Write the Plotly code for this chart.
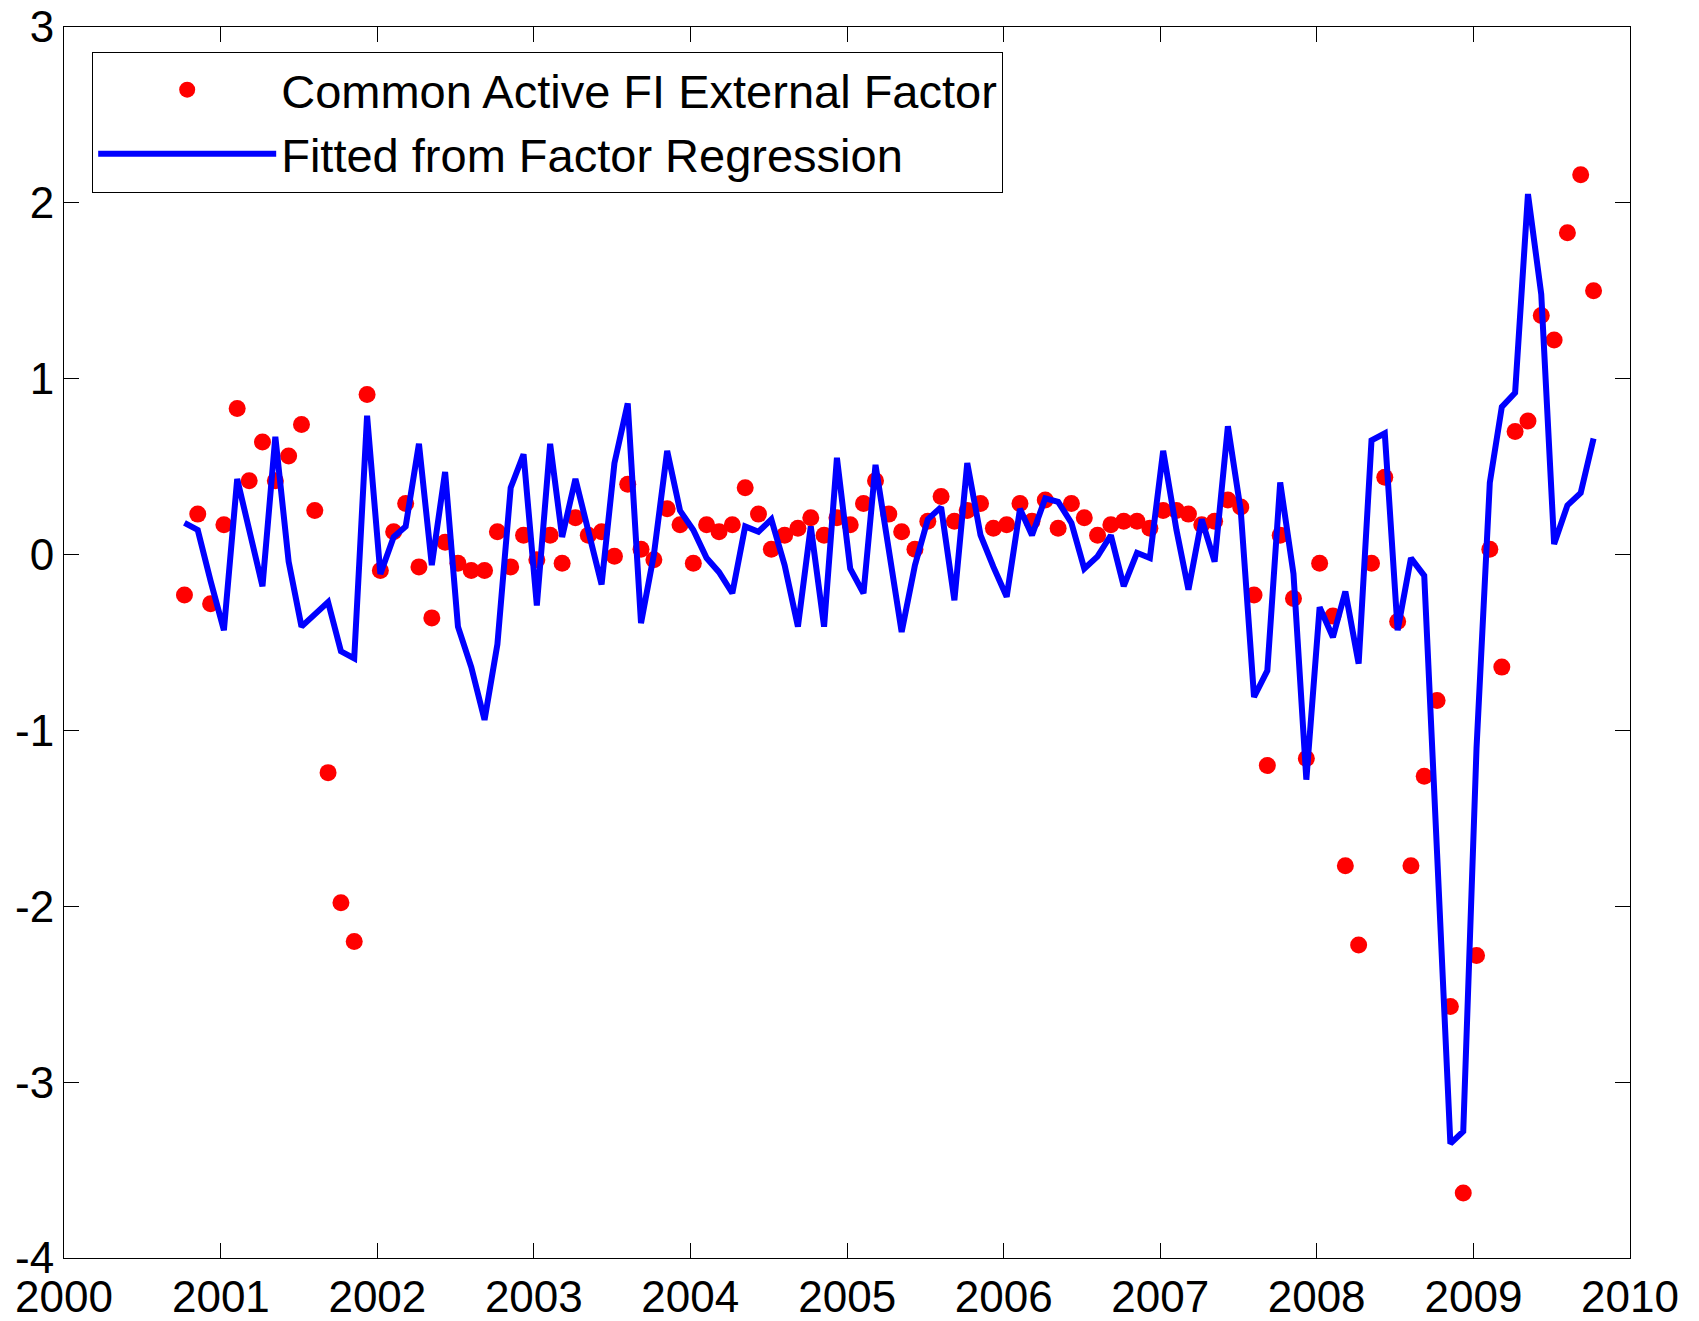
import plotly.graph_objects as go
import pandas as pd

dates = pd.date_range("2000-10-01", "2009-10-01", freq="MS") + pd.Timedelta(days=7)

factor = [
    -0.23, 0.23, -0.28, 0.17, 0.83, 0.42, 0.64, 0.42, 0.56, 0.74, 0.25, -1.24,
    -1.98, -2.20, 0.91, -0.09, 0.13, 0.29, -0.07, -0.36, 0.07, -0.05, -0.09, -0.09,
    0.13, -0.07, 0.11, -0.03, 0.11, -0.05, 0.21, 0.11, 0.13, -0.01, 0.40, 0.03,
    -0.03, 0.26, 0.17, -0.05, 0.17, 0.13, 0.17, 0.38, 0.23, 0.03, 0.11, 0.15,
    0.21, 0.11, 0.21, 0.17, 0.29, 0.42, 0.23, 0.13, 0.03, 0.19, 0.33, 0.19,
    0.25, 0.29, 0.15, 0.17, 0.29, 0.19, 0.31, 0.15, 0.29, 0.21, 0.11, 0.17,
    0.19, 0.19, 0.15, 0.25, 0.25, 0.23, 0.17, 0.19, 0.31, 0.27, -0.23, -1.20,
    0.11, -0.25, -1.16, -0.05, -0.35, -1.77, -2.22, -0.05, 0.44, -0.38, -1.77, -1.26,
    -0.83, -2.57, -3.63, -2.28, 0.03, -0.64, 0.70, 0.76, 1.36, 1.22, 1.83, 2.16,
    1.50,
]

fitted = [
    0.18, 0.14, -0.15, -0.43, 0.43, 0.13, -0.18, 0.67, -0.04, -0.41, -0.34, -0.27,
    -0.55, -0.59, 0.79, -0.11, 0.10, 0.16, 0.63, -0.06, 0.47, -0.41, -0.64, -0.94,
    -0.51, 0.38, 0.57, -0.29, 0.63, 0.10, 0.43, 0.14, -0.17, 0.52, 0.86, -0.39,
    0.00, 0.59, 0.25, 0.14, -0.02, -0.10, -0.22, 0.16, 0.13, 0.20, -0.06, -0.41,
    0.16, -0.41, 0.55, -0.08, -0.22, 0.51, 0.03, -0.44, -0.06, 0.20, 0.27, -0.26,
    0.52, 0.11, -0.07, -0.24, 0.26, 0.11, 0.32, 0.30, 0.18, -0.08, -0.01, 0.11,
    -0.18, 0.01, -0.02, 0.59, 0.14, -0.20, 0.20, -0.04, 0.73, 0.25, -0.81, -0.66,
    0.41, -0.11, -1.28, -0.30, -0.47, -0.21, -0.62, 0.65, 0.69, -0.43, -0.02, -0.12,
    -1.70, -3.35, -3.28, -1.10, 0.41, 0.84, 0.92, 2.05, 1.48, 0.06, 0.28, 0.35,
    0.66,
]

x_range = ["2000-01-01", "2010-01-01"]
y_ticks = [-4, -3, -2, -1, 0, 1, 2, 3]
y_tick_text = ["-4", "-3", "-2", "-1", "0", "1", "2", "3"]

FONT = "Liberation Sans, Arial, sans-serif"

fig = go.Figure()
fig.add_trace(go.Scatter(
    x=dates, y=factor, mode="markers",
    name="Common Active FI External Factor",
    marker=dict(color="#ff0000", size=17, line=dict(width=0)),
))
fig.add_trace(go.Scatter(
    x=dates, y=fitted, mode="lines",
    name="Fitted from Factor Regression",
    line=dict(color="#0000ff", width=6),
))

axis_common = dict(
    showline=True, linecolor="black", linewidth=1, mirror="ticks",
    ticks="inside", ticklen=15, tickcolor="black", tickwidth=1,
    showgrid=False, zeroline=False,
    tickfont=dict(family=FONT, size=44, color="black"),
)

fig.update_layout(
    width=1699, height=1321,
    margin=dict(l=64, r=69, t=27, b=63, autoexpand=False),
    paper_bgcolor="white", plot_bgcolor="white",
    font=dict(family=FONT, size=44, color="black"),
    xaxis=dict(range=x_range, dtick="M12", tick0="2000-01-01", tickformat="%Y",
               automargin=False, **axis_common),
    yaxis=dict(range=[-4, 3], tickvals=y_ticks, ticktext=y_tick_text,
               automargin=False, **axis_common),
    legend=dict(
        x=0.018, y=0.98, xanchor="left", yanchor="top",
        bordercolor="black", borderwidth=1, bgcolor="white",
        font=dict(family=FONT, size=47, color="black"),
        itemwidth=178, tracegroupgap=0,
    ),
    showlegend=True,
)

fig.write_html("out.html", config={"displayModeBar": False},
               post_script="document.body.style.margin='0';")
